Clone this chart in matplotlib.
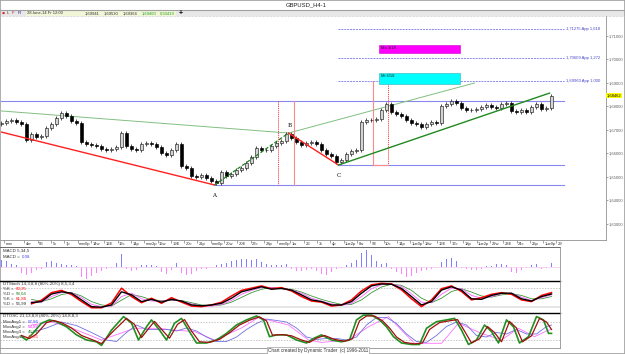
import matplotlib
matplotlib.use("Agg")
import matplotlib.pyplot as plt
from matplotlib.patches import Rectangle
from matplotlib.lines import Line2D
import matplotlib.transforms as mtransforms
import numpy as np

plt.rcParams['font.family'] = ['Liberation Sans', 'DejaVu Sans']

# ---- price data (H4 candles, open = previous close) ----
closes = [1.6730, 1.6738, 1.6743, 1.6734, 1.6726, 1.6657, 1.6683, 1.6670, 1.6674, 1.6709,
          1.6726, 1.6751, 1.6772, 1.6760, 1.6738, 1.6730, 1.6649, 1.6640, 1.6636, 1.6632,
          1.6619, 1.6615, 1.6619, 1.6628, 1.6687, 1.6632, 1.6619, 1.6615, 1.6640, 1.6645,
          1.6640, 1.6628, 1.6602, 1.6594, 1.6615, 1.6640, 1.6547, 1.6538, 1.6504, 1.6500,
          1.6508, 1.6496, 1.6483, 1.6474, 1.6521, 1.6504, 1.6513, 1.6530, 1.6538, 1.6560,
          1.6585, 1.6623, 1.6615, 1.6615, 1.6632, 1.6645, 1.6653, 1.6683, 1.6666, 1.6649,
          1.6636, 1.6645, 1.6649, 1.6640, 1.6615, 1.6598, 1.6589, 1.6564, 1.6572, 1.6598,
          1.6611, 1.6615, 1.6734, 1.6743, 1.6743, 1.6747, 1.6785, 1.6811, 1.6777, 1.6768,
          1.6760, 1.6743, 1.6730, 1.6726, 1.6713, 1.6726, 1.6734, 1.6730, 1.6802, 1.6811,
          1.6823, 1.6815, 1.6794, 1.6785, 1.6785, 1.6789, 1.6798, 1.6806, 1.6798, 1.6794,
          1.6811, 1.6815, 1.6781, 1.6777, 1.6785, 1.6777, 1.6798, 1.6811, 1.6789, 1.6794,
          1.6845]
first_open = 1.6726
wick = 0.0007

price_ticks = [1.71, 1.70, 1.69, 1.68, 1.67, 1.66, 1.65, 1.64, 1.63]
last_price = 1.68462

date_labels = ["mar", "4ar", "5E", "5c", "7p", "mar0p", "14w", "12E", "13c", "14p",
               "mar2p", "16w", "19E", "20c", "21p", "mar0p", "20w", "20E", "27c", "28p",
               "mar0p", "1w", "2E", "3c", "4p", "1ue2p", "8w", "9E", "10c", "14p",
               "1ue0p", "18w", "16E", "17c", "18p", "1ue2p", "22w", "23E", "24c", "26p",
               "1ue0p", "29"]

# pivots and drawing anchors (bar, price)
piv_A = (42.6, 1.6466)
piv_B = (57.4, 1.6687)
piv_C = (67.4, 1.6551)
red_start = (0, 1.6691)
lgreen_start = (0, 1.6781)
lgreen_end = (94.6, 1.6900)
dgreen_end = (109.6, 1.6857)
line_end = 112.6
top_level = 1.6823
fib_levels = [1.7130, 1.7006, 1.6909]
fib_labels = ["1,71275 App 1,618", "1,70609 App 1,272", "1,69963 App 1,000"]
zone_bars = (75.6, 91.8)
zone_max = (1.7028, 1.7062)
zone_min = (1.6896, 1.6943)
time_left = (55.4, 58.6)
time_right = (74.4, 77.4)

# ---- MACD histogram ----
macd = [7, 6, 3, 2, -6, -8, -6, -3, -2, 5, 6, 4, 3, 2, 2, 1, -10, -12, -9, -6,
        -4, -2, -1, 4, 13, -2, -4, -3, 2, 2, 2, 1, -5, -7, -3, 4, -6, -8, -7, -4,
        -2, -2, -1, 2, 3, 4, 6, 7, 8, 8, 7, 8, 5, 3, 2, 2, 2, 3, -2, -4,
        -4, -3, -2, -4, -7, -8, -5, -2, -1, 2, 4, 7, 14, 17, 12, 6, 3, 4, -2, -5,
        -7, -10, -9, -6, -4, -3, -2, -1, 5, 8, 9, 6, -1, -2, -3, -3, -2, 1, 1, 3,
        3, 2, -5, -6, -3, -1, 2, 3, -2, -1, 4]

# ---- DTStoch (bars 6..110 every 2) ----
st_black = [26, 30, 57, 65, 60, 36, 12, 10, 18, 65, 54, 30, 38, 28, 38, 32, 18, 15, 18, 24,
            42, 65, 74, 83, 74, 77, 71, 54, 36, 30, 18, 18, 30, 60, 86, 93, 92, 77, 48, 18,
            30, 71, 83, 71, 40, 38, 52, 60, 60, 40, 32, 48, 57]
st_red = [22, 35, 62, 70, 55, 30, 8, 8, 25, 78, 48, 26, 42, 24, 44, 28, 14, 12, 18, 28,
          50, 70, 78, 86, 76, 80, 68, 48, 32, 28, 14, 18, 36, 68, 90, 95, 93, 72, 40, 12,
          36, 76, 86, 66, 36, 44, 56, 62, 56, 36, 30, 52, 62]
st_green = [38, 30, 40, 55, 62, 50, 30, 18, 14, 35, 55, 48, 36, 34, 34, 34, 26, 18, 15, 18,
            28, 45, 62, 74, 80, 76, 74, 64, 50, 38, 28, 20, 20, 36, 62, 82, 92, 88, 70, 42,
            26, 42, 66, 76, 64, 50, 46, 54, 58, 52, 40, 40, 48]
st_magenta = [30, 28, 48, 62, 62, 44, 20, 12, 14, 48, 60, 40, 32, 32, 36, 32, 22, 14, 14, 20,
              34, 56, 70, 80, 80, 76, 72, 60, 42, 32, 22, 16, 24, 48, 76, 90, 93, 84, 58, 28,
              26, 56, 78, 76, 52, 42, 48, 58, 60, 46, 34, 44, 54]

# ---- DTOSC ----
osc_green_t = [4, 5, 6, 8, 9.6, 11, 13, 15, 17, 19, 20, 22, 24.4, 26, 27.4, 29, 30, 31.6, 33, 34.6,
               36, 37.4, 39, 41, 43, 45, 47, 49, 51, 52.4, 53.6, 55, 57, 59, 61, 62.4, 64, 66, 68, 69.6,
               71, 72.4, 74, 75.6, 77, 78.4, 80, 82, 83.6, 85, 87, 89, 90.6, 92, 93.4, 95, 96.6, 98, 99.4, 101,
               102.4, 103.6, 105.4, 107, 108.4, 109.4, 110]
osc_green = [31, 20, 37, 76, 87, 81, 64, 37, 20, 14, 2, 53, 98, 76, 20, 64, 87, 53, 20, 76,
             92, 53, 10, 10, 20, 42, 70, 87, 100, 87, 31, 37, 37, 20, 10, 25, 37, 20, 14, 20,
             87, 103, 103, 87, 64, 31, 10, 5, 5, 59, 81, 87, 92, 53, 5, 20, 70, 48, 10, 87,
             64, 10, 31, 98, 87, 42, 42]
osc_red_t = [4, 5.6, 7, 9, 10.4, 12, 14, 16, 18, 20, 22.4, 25, 26.6, 28, 29.6, 30.6, 32.2, 33.6, 35.2, 36.6,
             38, 39.6, 41.6, 43.6, 45.6, 47.6, 49.6, 51.6, 53, 54.2, 56, 58, 60, 61.6, 63, 64.6, 66.6, 68.6, 70.2, 71.6,
             73, 74.6, 76.2, 77.6, 79, 80.6, 82.6, 84.2, 85.6, 87.6, 89.6, 91.2, 92.6, 94, 95.6, 97.2, 98.6, 100, 101.6, 103,
             104.2, 106, 107.6, 109, 110]
osc_red = [35, 25, 40, 78, 85, 78, 60, 35, 22, 8, 50, 92, 72, 28, 62, 82, 52, 26, 72, 88,
           50, 14, 12, 22, 44, 70, 86, 97, 84, 36, 38, 34, 20, 12, 26, 35, 22, 16, 24, 84,
           100, 100, 84, 60, 30, 12, 7, 10, 55, 78, 84, 88, 50, 10, 24, 65, 45, 14, 82, 60,
           14, 34, 92, 80, 55]
osc_blue_t = [6, 9, 12, 15, 18, 21, 23, 25, 27, 29, 31, 33, 35, 37, 39, 41, 43, 45, 47, 49,
              51, 53, 55, 57, 59, 61, 63, 65, 67, 69, 71, 73, 75, 77, 79, 81, 83, 85, 87, 89,
              91, 93, 95, 97, 99, 101, 103, 105, 107, 109, 110]
osc_blue = [45, 60, 80, 68, 45, 20, 15, 45, 70, 55, 55, 55, 50, 60, 50, 30, 15, 15, 30, 55,
            75, 90, 85, 80, 60, 30, 22, 25, 25, 20, 30, 70, 95, 95, 75, 40, 15, 12, 35, 65,
            80, 70, 35, 30, 45, 40, 55, 40, 40, 65, 70]
osc_mag_t = [6, 10, 13.4, 20, 26.6, 31.4, 34.6, 38.6, 42.6, 48, 51.4, 57.4, 61.4, 64, 69.4, 73.4,
             77.4, 80, 82.6, 88, 91.4, 96, 100, 103.4, 106.6, 109.4, 110]
osc_mag = [70, 80, 64, 20, 59, 59, 53, 48, 20, 60, 95, 70, 20, 12, 20, 64,
           98, 53, 9, 9, 76, 42, 20, 59, 31, 53, 55]

W, H = 625, 354
fig = plt.figure(figsize=(W / 100, H / 100), dpi=100)
fig.patch.set_facecolor('white')


def px_axes(x0, y0, x1, y1):
    a = fig.add_axes([x0 / W, 1 - y1 / H, (x1 - x0) / W, (y1 - y0) / H])
    a.set_facecolor('white')
    return a


def ftext(x, y, s, **kw):
    kw.setdefault('fontsize', 3.2)
    kw.setdefault('va', 'center')
    return fig.text(x / W, 1 - y / H, s, **kw)


def fline(x0, y0, x1, y1, **kw):
    fig.add_artist(Line2D([x0 / W, x1 / W], [1 - y0 / H, 1 - y1 / H],
                          transform=fig.transFigure, **kw))


# ---------- main price panel ----------
ax = px_axes(0, 16, 606, 240)
ax.set_xlim(-0.3, 120.9)
ax.set_ylim(1.62319, 1.71851)

c = np.array(closes)
o = np.r_[first_open, c[:-1]]
idx = np.arange(len(c))
lo = np.minimum(o, c)
hi = np.maximum(o, c)
bh = np.maximum(hi - lo, 0.00015)
up = c >= o
ax.vlines(idx, lo - wick, hi + wick, color='#303030', lw=0.6, zorder=3)
ax.bar(idx[up], bh[up], bottom=lo[up], width=0.55, color='#d4d4d4',
       edgecolor='#202020', lw=0.45, zorder=4)
ax.bar(idx[~up], bh[~up], bottom=lo[~up], width=0.55, color='black',
       edgecolor='black', lw=0.45, zorder=4)

blue = '#8888ee'
ax.plot([0, line_end], [top_level] * 2, color=blue, lw=0.8, zorder=2)
ax.plot([piv_A[0], line_end], [piv_A[1]] * 2, color=blue, lw=0.8, zorder=2)
ax.plot([piv_C[0], line_end], [piv_C[1]] * 2, color=blue, lw=0.8, zorder=2)
for lev, lab in zip(fib_levels, fib_labels):
    ax.plot([piv_C[0], line_end], [lev] * 2, color=blue, lw=0.7, ls=(0, (2, 1)), zorder=2)
    ax.text(line_end + 0.3, lev, lab, color='#4444cc', fontsize=3.0, va='center', ha='left')

# trend lines
ax.plot([red_start[0], piv_A[0]], [red_start[1], piv_A[1]], color='#ff2020', lw=1.0, zorder=5)
ax.plot([piv_B[0], piv_C[0]], [piv_B[1], piv_C[1]], color='#ff2020', lw=1.0, zorder=5)
ax.plot([piv_A[0], piv_B[0]], [piv_A[1], piv_B[1]], color='#208020', lw=0.9, ls=(0, (3, 1.5)), zorder=5)
ax.plot([lgreen_start[0], piv_B[0], lgreen_end[0]],
        [lgreen_start[1], piv_B[1], lgreen_end[1]], color='#80c080', lw=0.7, zorder=2)
ax.plot([piv_C[0], dgreen_end[0]], [piv_C[1], dgreen_end[1]], color='#208a20', lw=1.0, zorder=5)

# time windows
pink = '#ff8888'
ax.plot([time_left[0]] * 2, [top_level, piv_A[1]], color='#ff3030', lw=0.6, ls=(0, (1.5, 1)))
ax.plot([time_left[1]] * 2, [top_level, piv_A[1]], color=pink, lw=0.8)
ax.plot([time_right[0]] * 2, [fib_levels[2], piv_C[1]], color=pink, lw=0.8)
ax.plot([time_right[1]] * 2, [fib_levels[2], piv_C[1]], color='#ff3030', lw=0.6, ls=(0, (1.5, 1)))
ax.plot(list(time_right), [piv_C[1]] * 2, color=pink, lw=0.8)

# price zones
ax.add_patch(Rectangle((zone_bars[0], zone_max[0]), zone_bars[1] - zone_bars[0],
                       zone_max[1] - zone_max[0], facecolor='#ff00ff', edgecolor='#cc00cc', lw=0.4, zorder=3))
ax.text(zone_bars[0] + 0.3, zone_max[1] - 0.0006, "Ma 3/18", fontsize=3.0, va='top', color='#202020')
ax.add_patch(Rectangle((zone_bars[0], zone_min[0]), zone_bars[1] - zone_bars[0],
                       zone_min[1] - zone_min[0], facecolor='#00ffff', edgecolor='#30b0b0', lw=0.4, zorder=3))
ax.text(zone_bars[0] + 0.3, zone_min[1] - 0.0006, "Mi 6/18", fontsize=3.0, va='top', color='#202020')

# pivot letters
ax.text(piv_A[0], piv_A[1] - 0.0045, "A", fontsize=4, family='DejaVu Serif', ha='center', va='center')
ax.text(piv_B[0] + 0.2, piv_B[1] + 0.0032, "B", fontsize=4, family='DejaVu Serif', ha='center', va='center')
ax.text(piv_C[0], piv_C[1] - 0.0045, "C", fontsize=4, family='DejaVu Serif', ha='center', va='center')

# price axis
ax.yaxis.tick_right()
ax.set_yticks(price_ticks)
ax.set_yticklabels([f"{p:.5f}".replace('.', ',') for p in price_ticks], fontsize=3.0, color='#404040')
ax.tick_params(axis='y', length=1.5, width=0.4, pad=0.5, colors='#606060')
ax.text(1.001, last_price, f"{last_price:.5f}".replace('.', ','),
        transform=mtransforms.blended_transform_factory(ax.transAxes, ax.transData),
        fontsize=3.0, va='center', ha='left', bbox=dict(boxstyle='square,pad=0.15', fc='#ffff00', ec='none'))

# date axis
date_pos = np.r_[0.6, 4.6 + 2.66 * np.arange(len(date_labels) - 1)]
ax.set_xticks(date_pos)
ax.set_xticklabels([])
ax.tick_params(axis='x', length=2, width=0.4, colors='#606060')
for p, lab in zip(date_pos, date_labels):
    ax.text(p + 0.3, -0.017, lab, transform=mtransforms.blended_transform_factory(ax.transData, ax.transAxes),
            fontsize=3.0, va='center', ha='left', color='#303030')
for s in ['top', 'left']:
    ax.spines[s].set_visible(False)
ax.spines['bottom'].set_color('#909090')
ax.spines['right'].set_color('#909090')
for s in ['bottom', 'right']:
    ax.spines[s].set_linewidth(0.6)

# ---------- MACD panel ----------
am = px_axes(0, 247, 560, 280)
am.set_xlim(-0.3, 111.7)
am.set_ylim(-13, 20)
mv = np.array(macd)
mi = np.arange(len(mv))
am.axhline(0, color='#f0c8f0', lw=0.5)
am.bar(mi, mv, width=0.3, color=np.where(mv >= 0, '#8080ff', '#ff80ff'))
ftext(3, 251, "MACD 5,34,5", ha='left', color='#303030')
ftext(3, 256.5, "MACD =", ha='left', color='#303030')
ftext(21.5, 256.5, "0,08", ha='left', color='#4040ff')

# ---------- DTStoch panel ----------
ast = px_axes(0, 280, 560, 311)
ast.set_xlim(-0.3, 111.7)
ast.set_ylim(-3.6, 107.1)
st_t = np.arange(6, 111, 2)
ast.axhspan(6, 15, color='#e6e6e6', lw=0)
ast.axhline(80, color='#b0b0b0', lw=0.5, ls=(0, (2, 2)))
ast.plot(st_t, st_green, color='#3a9a3a', lw=0.6)
ast.plot(st_t, st_magenta, color='#ff60ff', lw=0.6)
ast.plot(st_t, st_red, color='#ff0000', lw=1.1)
ast.plot(st_t, st_black, color='black', lw=1.0)
ftext(3, 284, "DTStoch 14,3,8,8 (80%-20%) 8,5,3,4", ha='left', color='#303030')
for yy, lab, val, col in [(289, "%K =", "60,25", '#ff0000'), (294, "%D =", "58,04", '#208020'),
                          (299, "%K =", "61,86", '#ff0000'), (304, "%D =", "56,99", '#202020')]:
    ftext(3, yy, lab, ha='left', color='#303030')
    ftext(15.5, yy, val, ha='left', color=col)

# ---------- DTOSC panel ----------
ao = px_axes(0, 313, 560, 348)
ao.set_xlim(-0.3, 111.7)
ao.set_ylim(-6.7, 110)
ao.axhline(80, color='#b0b0b0', lw=0.5, ls=(0, (2, 2)))
ao.axhline(20, color='#b0b0b0', lw=0.5, ls=(0, (2, 2)))
ao.plot(osc_mag_t, osc_mag, color='#ff70ff', lw=0.6)
ao.plot(osc_blue_t, osc_blue, color='#7070e0', lw=0.6)
ao.plot(osc_green_t, osc_green, color='#209020', lw=1.2)
ao.plot(osc_red_t, osc_red, color='#a01010', lw=0.9)
ftext(3, 316.5, "DTOSC 21,13,8,8 (80%-20%) 14,8,8,3", ha='left', color='#303030')
for yy, lab, val, col in [(322, "MovAvg1 =", "67,86", '#4040ff'), (327, "MovAvg2 =", "54,87", '#ff00ff'),
                          (332, "MovAvg3 =", "45,81", '#208020'), (337, "MovAvg4 =", "42,85", '#ff2020')]:
    ftext(3, yy, lab, ha='left', color='#303030')
    ftext(28, yy, val, ha='left', color=col)

for a in (am, ast, ao):
    a.set_xticks([])
    a.set_yticks([])
    for s in a.spines.values():
        s.set_visible(False)

# ---------- frame, header, footer ----------
fline(0, 247, 560, 247, color='#505050', lw=0.6)
fline(0, 280.5, 560, 280.5, color='black', lw=1.0)
fline(0, 312.5, 560, 312.5, color='black', lw=1.0)
fline(0, 348, 560, 348, color='#909090', lw=0.6)
fline(560, 247, 560, 348, color='#909090', lw=0.6)
fline(0, 9.5, W, 9.5, color='#a0a0a0', lw=0.8)
fig.add_artist(Rectangle((0, 1 - 16 / H), 1, 6 / H, transform=fig.transFigure,
                         facecolor='#e8e8e8', edgecolor='none'))
fline(0, 16, W, 16, color='#b8b8b8', lw=0.5, ls=(0, (1, 1)))
fig.add_artist(Rectangle((0, 0), 1, 1, transform=fig.transFigure,
                         facecolor='none', edgecolor='#a0a0a0', lw=1.2))

ftext(306, 4.5, "GBPUSD_H4-1", ha='center', fontsize=4.2, color='#202020')
ftext(1.5, 13, "\u25cf", ha='left', fontsize=2.5, color='#e02020', family='DejaVu Sans')
ftext(6.5, 13, "L", ha='left', color='#404040')
ftext(12, 13, "F", ha='left', color='#a03030')
ftext(17.5, 13, "R", ha='left', color='#2020a0')
fig.add_artist(Rectangle((26 / W, 1 - 16 / H), 150 / W, 5 / H, transform=fig.transFigure,
                         facecolor='#f2f6d8', edgecolor='none'))
ftext(27, 13.3, "28-Iune-14 Fr 12:00", ha='left', fontsize=3.0, color='#303030')
for xx, s, col in [(85, "1,69941", '#303030'), (104, "1,69530", '#303030'),
                   (123, "1,69364", '#303030'), (142, "1,69460", '#20a020'),
                   (160, "0,30419", '#20a020')]:
    ftext(xx, 13.3, s, ha='left', fontsize=3.0, color=col)
ftext(181, 13, "+", ha='center', fontsize=5, fontweight='bold', color='black')

ftext(268, 350.5, "Chart created by Dynamic Trader  (c) 1996-2011", ha='left', fontsize=3.3, color='#303030',
      bbox=dict(boxstyle='square,pad=0.2', fc='white', ec='#a0a0a0', lw=0.5))

fig.savefig("out.png", dpi=100)
